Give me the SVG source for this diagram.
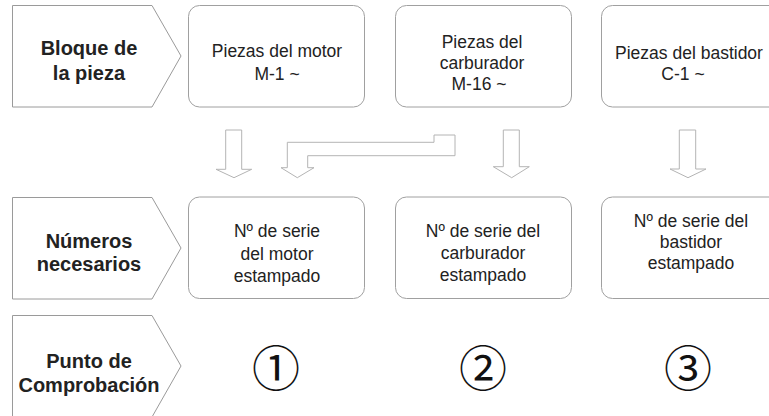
<svg xmlns="http://www.w3.org/2000/svg" width="769" height="416" viewBox="0 0 769 416">
<style>
.lab{fill:#fff;stroke:#9a9a9a;stroke-width:1}
.box{fill:#fff;stroke:#a0a0a0;stroke-width:1}
.arr{fill:#fff;stroke:#b4b4b4;stroke-width:1}
.h{font-family:"Liberation Sans",Arial,sans-serif;font-weight:bold;font-size:20px;fill:#222;text-anchor:middle}
.t{font-family:"Liberation Sans",Arial,sans-serif;font-size:17.5px;fill:#222;text-anchor:middle}
.c{font-family:"Noto Sans CJK JP","DejaVu Sans",sans-serif;font-size:48px;fill:#111;text-anchor:middle}
</style>
<rect width="769" height="416" fill="#fff"/>
<g id="lab1"><path class="lab" d="M12.5,5.5H152L181,56L152,107H12.5Z"/><text class="h" x="89" y="55">Bloque de</text><text class="h" x="89" y="80">la pieza</text></g>
<g id="lab2"><path class="lab" d="M12.5,197.5H152L181,248L152,299H12.5Z"/><text class="h" x="89" y="248">Números</text><text class="h" x="89" y="271">necesarios</text></g>
<g id="lab3"><path class="lab" d="M12.5,315.5H152L181,366L152,417H12.5Z"/><text class="h" x="89" y="368">Punto de</text><text class="h" x="89" y="392">Comprobación</text></g>
<g id="b11"><rect class="box" x="188.5" y="5.5" width="176" height="101.5" rx="11"/><text class="t" x="277" y="57">Piezas del motor</text><text class="t" x="277" y="80">M-1 ~</text></g>
<g id="b12"><rect class="box" x="395.5" y="5.5" width="176" height="101.5" rx="11"/><text class="t" x="482" y="48">Piezas del</text><text class="t" x="482" y="69">carburador</text><text class="t" x="479" y="90">M-16 ~</text></g>
<g id="b13"><rect class="box" x="601.5" y="5.5" width="180" height="101.5" rx="11"/><text class="t" x="689" y="58.5">Piezas del bastidor</text><text class="t" x="683" y="79.5">C-1 ~</text></g>
<g id="b21"><rect class="box" x="188.5" y="197" width="176" height="101.5" rx="11"/><text class="t" x="277" y="237">Nº de serie</text><text class="t" x="277" y="259.5">del motor</text><text class="t" x="277" y="282">estampado</text></g>
<g id="b22"><rect class="box" x="395.5" y="197" width="176" height="101.5" rx="11"/><text class="t" x="483" y="237">Nº de serie del</text><text class="t" x="483" y="259">carburador</text><text class="t" x="483" y="281">estampado</text></g>
<g id="b23"><rect class="box" x="601.5" y="197" width="180" height="101.5" rx="11"/><text class="t" x="691" y="227">Nº de serie del</text><text class="t" x="691" y="248">bastidor</text><text class="t" x="691" y="269">estampado</text></g>
<g id="p1"><text class="c" x="276" y="386">①</text></g>
<g id="p2"><text class="c" x="483" y="386">②</text></g>
<g id="p3"><text class="c" x="688" y="386">③</text></g>
<g id="connectors">
<path class="arr" d="M225.7,130H241.7V169.3H251.7L234,177.7L216,169.3H225.7Z"/>
<path class="arr" d="M434,135H455V155.7H307.7V167.7H314L297.3,177.7L281,167.7H287.3V142.3H434Z"/>
<path class="arr" d="M503.3,130H519.3V166.7H529.3L511.7,177.7L493.3,166.7H503.3Z"/>
<path class="arr" d="M679.3,130H695.7V169H706L688,177.7L670,169H679.3Z"/>
</g>
</svg>
